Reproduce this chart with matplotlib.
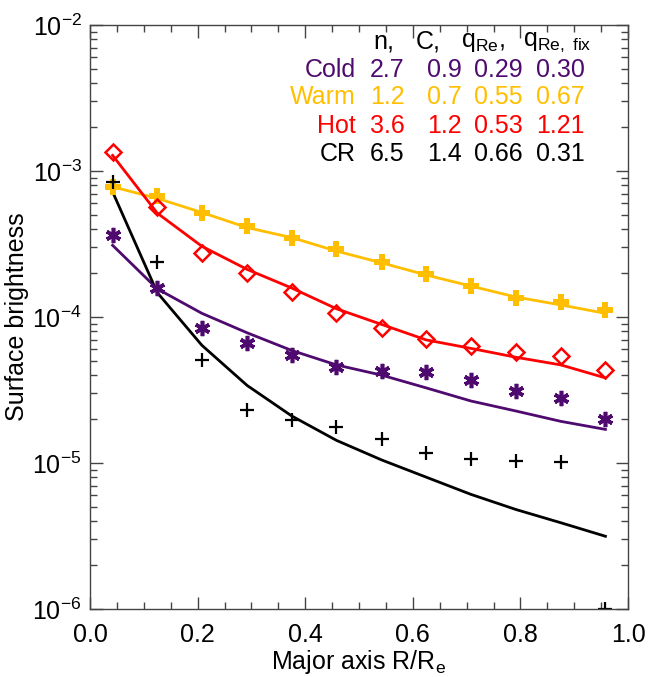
import numpy as np
import matplotlib
matplotlib.use('Agg')
import matplotlib.pyplot as plt
from matplotlib.ticker import MultipleLocator, LogLocator, NullFormatter

plt.rcParams['font.family'] = ['Liberation Sans', 'DejaVu Sans']
plt.rcParams['mathtext.fontset'] = 'custom'
plt.rcParams['mathtext.rm'] = 'Liberation Sans'
plt.rcParams['mathtext.it'] = 'Liberation Sans'

# radius bins along the major axis (R/Re)
radius = [0.042, 0.125, 0.208, 0.292, 0.375, 0.458, 0.542, 0.625, 0.708, 0.792, 0.875, 0.958]

# measured surface brightness
cold_obs = [3.65e-4, 1.58e-4, 8.4e-5, 6.6e-5, 5.5e-5, 4.55e-5, 4.27e-5, 4.2e-5, 3.7e-5, 3.1e-5, 2.8e-5, 2.0e-5]
warm_obs = [7.8e-4, 6.75e-4, 5.15e-4, 4.2e-4, 3.48e-4, 2.92e-4, 2.38e-4, 1.97e-4, 1.63e-4, 1.35e-4, 1.27e-4, 1.12e-4]
hot_obs = [1.35e-3, 5.66e-4, 2.74e-4, 2.0e-4, 1.48e-4, 1.06e-4, 8.4e-5, 7.07e-5, 6.33e-5, 5.76e-5, 5.41e-5, 4.34e-5]
cr_obs = [8.4e-4, 2.38e-4, 5.07e-5, 2.31e-5, 1.97e-5, 1.77e-5, 1.46e-5, 1.17e-5, 1.06e-5, 1.03e-5, 1.02e-5, 1.0e-6]

# fitted profiles
cold_fit = [3.1e-4, 1.56e-4, 1.06e-4, 7.8e-5, 5.9e-5, 4.7e-5, 4.0e-5, 3.27e-5, 2.66e-5, 2.27e-5, 1.93e-5, 1.7e-5]
warm_fit = [7.8e-4, 6.5e-4, 5.2e-4, 4.1e-4, 3.5e-4, 2.83e-4, 2.35e-4, 1.94e-4, 1.63e-4, 1.37e-4, 1.21e-4, 1.06e-4]
hot_fit = [1.28e-3, 5.15e-4, 3.05e-4, 2.12e-4, 1.58e-4, 1.14e-4, 8.9e-5, 6.97e-5, 6.1e-5, 5.3e-5, 4.7e-5, 3.83e-5]
cr_fit = [7.2e-4, 1.47e-4, 6.4e-5, 3.4e-5, 2.1e-5, 1.43e-5, 1.05e-5, 8.0e-6, 6.1e-6, 4.8e-6, 3.9e-6, 3.15e-6]

names = ['Cold', 'Warm', 'Hot', 'CR']
n_vals = ['2.7', '1.2', '3.6', '6.5']
c_vals = ['0.9', '0.7', '1.2', '1.4']
q_vals = ['0.29', '0.55', '0.53', '0.66']
qfix_vals = ['0.30', '0.67', '1.21', '0.31']

purple = '#4e0a6e'
gold = '#ffbf00'
red = '#ff0000'
black = '#000000'
colors = [purple, gold, red, black]

fig = plt.figure(figsize=(6.49, 6.77), dpi=100)
ax = fig.add_axes([0.1387, 0.1004, 0.829, 0.8626])

ax.plot(radius, warm_fit, color=gold, lw=2)
ax.plot(radius, hot_fit, color=red, lw=2)
ax.plot(radius, cold_fit, color=purple, lw=2)
ax.plot(radius, cr_fit, color=black, lw=2)

ax.plot(radius, warm_obs, ls='none', marker='P', ms=11, color=gold, mec=gold, mew=0)
ax.plot(radius, hot_obs, ls='none', marker='D', ms=8.5, mfc='none', mec=red, mew=1.8)
ax.plot(radius, cold_obs, ls='none', marker=(6, 2, 0), ms=11, color=purple, mec=purple, mew=2.6)
ax.plot(radius, cr_obs, ls='none', marker='+', ms=10, color=black, mew=1.6)

ax.set_yscale('log')
ax.set_xlim(0.0, 1.0)
ax.set_ylim(1e-6, 1e-2)

ax.xaxis.set_major_locator(MultipleLocator(0.2))
ax.xaxis.set_minor_locator(MultipleLocator(0.05))
ax.yaxis.set_major_locator(LogLocator(base=10, numticks=10))
ax.yaxis.set_minor_locator(LogLocator(base=10, subs=np.arange(2, 10), numticks=20))
ax.yaxis.set_minor_formatter(NullFormatter())

ax.tick_params(which='both', direction='in', top=True, right=True, labelsize=18, color='#444444')
ax.tick_params(which='major', length=9, width=1)
ax.tick_params(which='minor', length=5, width=1)
ax.tick_params(axis='x', pad=10)
ax.tick_params(axis='y', pad=6)
for sp in ax.spines.values():
    sp.set_color('#444444')
    sp.set_linewidth(1)

ax.set_xlabel('Major axis R/R$_\\mathrm{e}$', fontsize=18, labelpad=1)
ax.set_ylabel('Surface brightness', fontsize=18, labelpad=2)

fs = 18
hy = 0.971
ax.text(0.526, hy, 'n,', transform=ax.transAxes, fontsize=fs, va='center')
ax.text(0.606, hy, 'C,', transform=ax.transAxes, fontsize=fs, va='center')
ax.text(0.690, hy, 'q$_\\mathrm{Re}$,', transform=ax.transAxes, fontsize=fs, va='center')
ax.text(0.805, hy, 'q$_\\mathrm{Re,\\ fix}$', transform=ax.transAxes, fontsize=fs, va='center')

row_y = [0.923, 0.877, 0.827, 0.779]
for i in range(4):
    y = row_y[i]
    ax.text(0.494, y, names[i], color=colors[i], transform=ax.transAxes, fontsize=fs, va='center', ha='right')
    ax.text(0.520, y, n_vals[i], color=colors[i], transform=ax.transAxes, fontsize=fs, va='center')
    ax.text(0.626, y, c_vals[i], color=colors[i], transform=ax.transAxes, fontsize=fs, va='center')
    ax.text(0.714, y, q_vals[i], color=colors[i], transform=ax.transAxes, fontsize=fs, va='center')
    ax.text(0.829, y, qfix_vals[i], color=colors[i], transform=ax.transAxes, fontsize=fs, va='center')

fig.savefig('out.png', dpi=100)
